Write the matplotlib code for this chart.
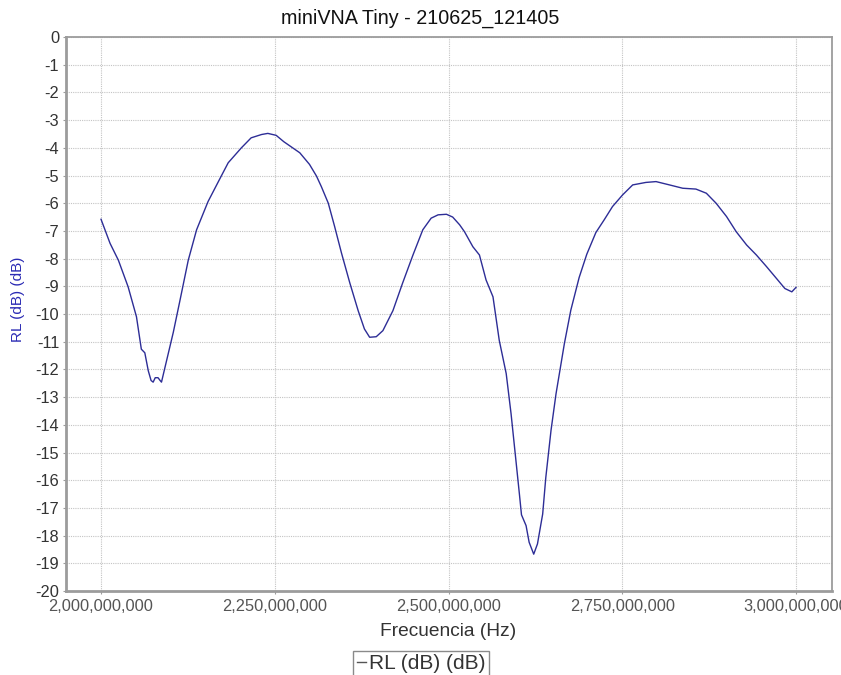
#!/usr/bin/env python3
"""
plot.py

Redraw the miniVNA Tiny return-loss sweep (2.0 - 3.0 GHz) and save it
as out.png (841 x 675 px).
"""

import matplotlib
matplotlib.use('Agg')
import matplotlib.pyplot as plt
from matplotlib.lines import Line2D
from matplotlib.ticker import FuncFormatter, MultipleLocator

# Sweep points (frequency in MHz, return loss in dB)
freq_mhz = [
    2000, 2013, 2025, 2039, 2051, 2058, 2063, 2068, 2072, 2075, 2078, 2082,
    2085, 2087, 2092, 2104, 2113.5, 2125.5, 2137.5, 2154, 2173, 2183, 2202,
    2216, 2231, 2240, 2252, 2263, 2286, 2300, 2310, 2317, 2327, 2336, 2346,
    2358, 2370, 2379, 2386.5, 2396, 2405.6, 2420, 2434, 2449, 2463, 2475,
    2485, 2497, 2506, 2516, 2523, 2535, 2544.5, 2554, 2564, 2573, 2583, 2590,
    2597, 2602, 2605, 2611.6, 2616, 2622.6, 2628, 2635.5, 2640, 2647.5,
    2654.7, 2666.7, 2676, 2688, 2699, 2712, 2724, 2736, 2750.5, 2765, 2784,
    2798.6, 2818, 2837, 2856, 2871, 2885, 2900, 2914, 2929, 2943, 2957.6,
    2972, 2984, 2994, 3000,
]
rl_db = [
    -6.58, -7.45, -8.06, -9.02, -10.10, -11.27, -11.40, -12.05, -12.40, -12.46,
    -12.30, -12.30, -12.40, -12.46, -11.93, -10.66, -9.52, -8.06, -6.96, -5.94,
    -5.02, -4.54, -4.00, -3.64, -3.52, -3.48, -3.55, -3.78, -4.18, -4.60,
    -5.02, -5.40, -6.00, -6.83, -7.80, -8.88, -9.88, -10.54, -10.84, -10.82,
    -10.60, -9.88, -8.88, -7.86, -6.96, -6.54, -6.42, -6.40, -6.50, -6.78,
    -7.03, -7.57, -7.87, -8.77, -9.38, -10.95, -12.15, -13.60, -15.29, -16.50,
    -17.25, -17.64, -18.24, -18.67, -18.30, -17.22, -15.90, -14.20, -12.88,
    -11.07, -9.86, -8.68, -7.84, -7.06, -6.60, -6.12, -5.70, -5.34, -5.25,
    -5.22, -5.34, -5.46, -5.49, -5.64, -6.00, -6.48, -7.03, -7.51, -7.87,
    -8.29, -8.72, -9.08, -9.20, -9.04,
]

x_ticks_hz = [2.0e9, 2.25e9, 2.5e9, 2.75e9, 3.0e9]
title = 'miniVNA Tiny - 210625_121405'
x_label = 'Frecuencia (Hz)'
y_label = 'RL (dB) (dB)'
series_label = 'RL (dB) (dB)'

LINE_COLOR = '#2d2d96'
W, H = 841, 675


def main():
    plt.rcParams['font.family'] = ['Liberation Sans', 'DejaVu Sans']

    fig = plt.figure(figsize=(W / 100, H / 100), dpi=100)
    ax = fig.add_axes([66 / W, 1 - 591 / H, (832 - 66) / W, (591 - 37) / H])

    freq_hz = [f * 1e6 for f in freq_mhz]
    ax.plot(freq_hz, rl_db, color=LINE_COLOR, linewidth=1.0)

    ax.set_xlim(1.9496e9, 3.0518e9)
    ax.set_ylim(-20, 0)
    ax.set_xticks(x_ticks_hz)
    ax.xaxis.set_major_formatter(FuncFormatter(lambda v, p: f'{v:,.0f}'))
    ax.yaxis.set_major_locator(MultipleLocator(1))
    ax.yaxis.set_major_formatter(FuncFormatter(lambda v, p: f'{v:.0f}'))

    ax.grid(True, color='#c4c4c4', linestyle=(0, (1, 1)), linewidth=0.8)
    ax.set_axisbelow(True)
    for side in ax.spines.values():
        side.set_color('#9c9c9c')
        side.set_linewidth(1.3)
    ax.spines['left'].set_linewidth(2.0)
    ax.spines['bottom'].set_linewidth(2.0)

    ax.tick_params(axis='both', length=2, color='#9c9c9c', labelsize=11.8)
    ax.tick_params(axis='x', pad=4, labelcolor='#555555')
    ax.tick_params(axis='y', pad=3, labelcolor='#333333')

    # Title, axis labels and legend placed in figure pixels
    fig.text(420 / W, 1 - 18 / H, title, ha='center', va='center',
             fontsize=14.2, color='#111111')
    fig.text(448 / W, 1 - 632 / H, x_label, ha='center', va='center',
             fontsize=13.8, color='#333333')
    fig.text(18 / W, 1 - 299 / H, y_label, ha='center', va='center',
             rotation=90, fontsize=11, color='#2a2ab4')

    handle = Line2D([], [], color='#555555', linewidth=1.0)
    leg = fig.legend([handle], [series_label], loc='upper center',
                     bbox_to_anchor=(421 / W, 1 - 651 / H),
                     fontsize=15, handlelength=0.45, handletextpad=0.15,
                     borderpad=0.15, borderaxespad=0, fancybox=False,
                     framealpha=1, edgecolor='#8a8a8a')
    leg.get_frame().set_linewidth(1.0)
    for text in leg.get_texts():
        text.set_color('#333333')

    fig.savefig('out.png', dpi=100)
    plt.close(fig)


if __name__ == '__main__':
    main()
